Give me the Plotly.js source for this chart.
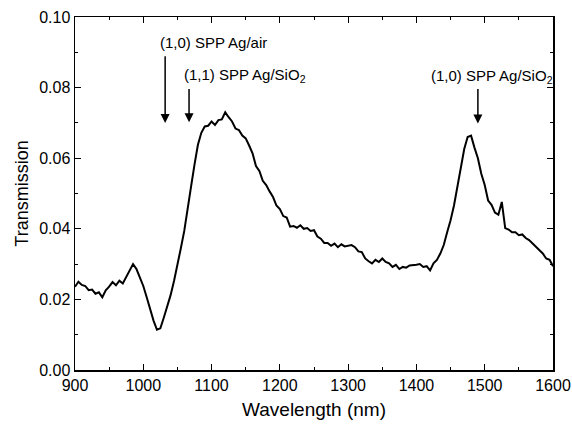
<!DOCTYPE html>
<html>
<head>
<meta charset="utf-8">
<script src="https://cdn.plot.ly/plotly-3.0.1.min.js"></script>
<style>html,body{margin:0;padding:0;background:#fff;}#chart{width:572px;height:430px;}</style>
</head>
<body>
<div id="chart"></div>
<script>
var wavelength = [900,905,910,915,920,925,930,935,940,945,950,955,960,965,970,975,980,985,990,995,
1000,1005,1010,1015,1020,1025,1030,1035,1040,1045,1050,1055,1060,1065,1070,1075,1080,1085,1090,1095,
1100,1105,1110,1115,1120,1125,1130,1135,1140,1145,1150,1155,1160,1165,1170,1175,1180,1185,1190,1195,
1200,1205,1210,1215,1220,1225,1230,1235,1240,1245,1250,1255,1260,1265,1270,1275,1280,1285,1290,1295,
1300,1305,1310,1315,1320,1325,1330,1335,1340,1345,1350,1355,1360,1365,1370,1375,1380,1385,1390,1395,
1400,1405,1410,1415,1420,1425,1430,1435,1440,1445,1450,1455,1460,1465,1470,1475,1480,1485,1490,1495,
1500,1505,1510,1515,1520,1525,1530,1535,1540,1545,1550,1555,1560,1565,1570,1575,1580,1585,1590,1595,1600];

var transmission = [0.0236,0.0250,0.0241,0.0238,0.0226,0.0228,0.0216,0.0220,0.0206,0.0226,0.0236,0.0249,0.0240,0.0253,0.0245,0.0264,0.0280,0.0300,0.0286,0.0262,
0.0238,0.0206,0.0172,0.0140,0.0114,0.0118,0.0148,0.0178,0.0212,0.0252,0.0294,0.0345,0.0394,0.0462,0.0520,0.0582,0.0638,0.0672,0.0690,0.0692,
0.0704,0.0694,0.0708,0.0710,0.0730,0.0716,0.0704,0.0684,0.0680,0.0664,0.0656,0.0636,0.0614,0.0578,0.0564,0.0536,0.0524,0.0506,0.0490,0.0466,
0.0456,0.0436,0.0432,0.0406,0.0408,0.0403,0.0410,0.0400,0.0402,0.0394,0.0396,0.0378,0.0372,0.0360,0.0360,0.0352,0.0358,0.0348,0.0356,0.0350,
0.0352,0.0354,0.0348,0.0336,0.0334,0.0316,0.0308,0.0302,0.0312,0.0306,0.0316,0.0306,0.0302,0.0292,0.0298,0.0286,0.0292,0.0290,0.0296,0.0296,
0.0298,0.0300,0.0292,0.0294,0.0282,0.0302,0.0312,0.0330,0.0354,0.0390,0.0424,0.0466,0.0520,0.0576,0.0626,0.0660,0.0664,0.0630,0.0600,0.0556,
0.0524,0.0480,0.0468,0.0446,0.0440,0.0476,0.0402,0.0398,0.0390,0.0390,0.0382,0.0384,0.0374,0.0368,0.0358,0.0350,0.0338,0.0330,0.0316,0.0312,0.0294];

var labels = ["(1,0) SPP Ag/air", "(1,1) SPP Ag/SiO<sub>2</sub>", "(1,0) SPP Ag/SiO<sub>2</sub>"];
var labelX = [1021, 1056, 1418];
var labelY = [0.0929, 0.0834, 0.0832];
var arrowX = [1032, 1067, 1490];
var arrowTail = [0.0893, 0.0800, 0.0800];
var arrowTip = [0.0700, 0.0702, 0.0698];

var font = 'Liberation Sans, Arial, sans-serif';
var annotations = [];
for (var i = 0; i < labels.length; i++) {
  annotations.push({x: labelX[i], y: labelY[i], xref: 'x', yref: 'y', text: labels[i], showarrow: false,
    xanchor: 'left', yanchor: 'middle', font: {family: font, size: 15, color: '#000'}});
  annotations.push({x: arrowX[i], y: arrowTip[i], ax: arrowX[i], ay: arrowTail[i], xref: 'x', yref: 'y', axref: 'x', ayref: 'y',
    text: '', showarrow: true, arrowhead: 2, arrowsize: 1.2, arrowwidth: 1.5, arrowcolor: '#000'});
}

var trace = {x: wavelength, y: transmission, type: 'scatter', mode: 'lines',
  line: {color: '#000', width: 2}, hoverinfo: 'skip'};

var axisCommon = {showline: true, linecolor: '#000', linewidth: 1.5, mirror: 'ticks', ticks: 'inside', ticklen: 6,
  tickwidth: 1.2, tickcolor: '#000', showgrid: false, zeroline: false,
  tickfont: {family: font, size: 16, color: '#000'},
  minor: {ticks: 'inside', ticklen: 3, tickcolor: '#000', tickwidth: 1, showgrid: false}};

var layout = {
  width: 572, height: 430,
  margin: {l: 75, r: 19, t: 17, b: 60},
  paper_bgcolor: '#fff', plot_bgcolor: '#fff',
  showlegend: false,
  xaxis: Object.assign({}, axisCommon, {range: [900, 1600], dtick: 100, tick0: 900,
    minor: Object.assign({}, axisCommon.minor, {dtick: 50}),
    title: {text: 'Wavelength (nm)', standoff: 10, font: {family: font, size: 19, color: '#000'}}}),
  yaxis: Object.assign({}, axisCommon, {range: [0, 0.10], dtick: 0.02, tick0: 0, tickformat: '.2f',
    minor: Object.assign({}, axisCommon.minor, {dtick: 0.01}),
    title: {text: 'Transmission', standoff: 6, font: {family: font, size: 18, color: '#000'}}}),
  annotations: annotations
};

Plotly.newPlot('chart', [trace], layout, {displayModeBar: false, staticPlot: true});
</script>
</body>
</html>
